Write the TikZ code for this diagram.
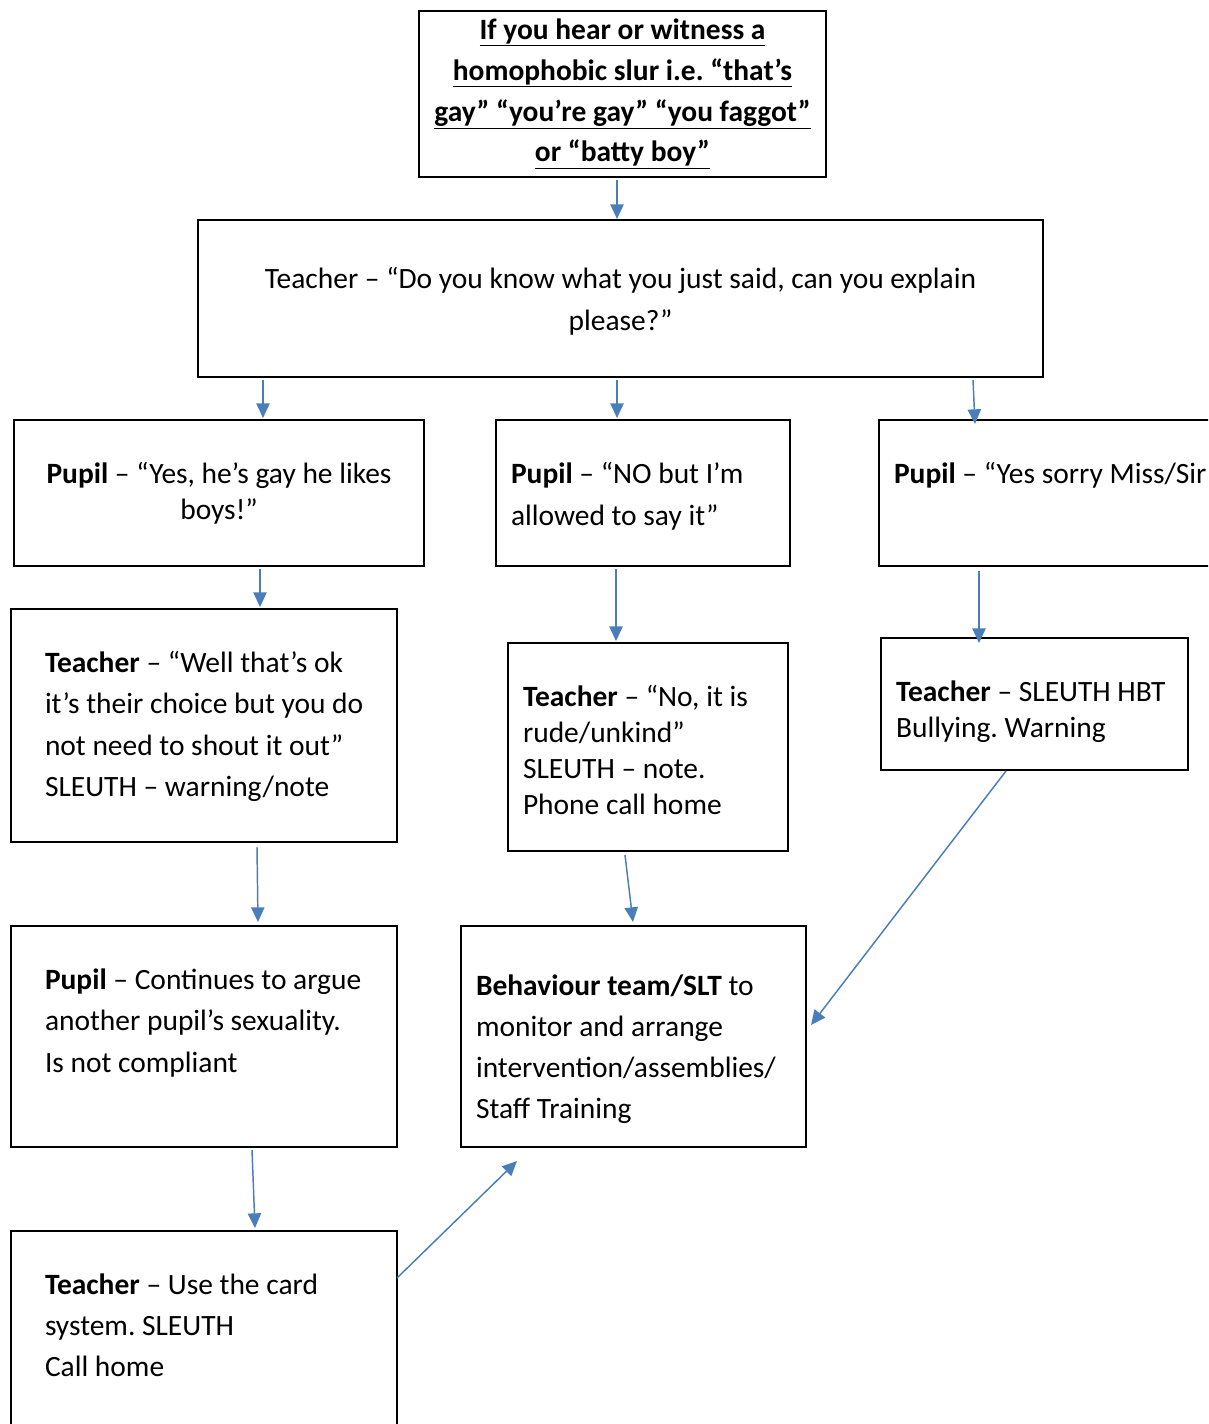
\documentclass[tikz,border=0pt]{standalone}
\usepackage{fontspec}
\setmainfont{Carlito}
\usetikzlibrary{arrows.meta}
\definecolor{arrowblue}{RGB}{74,126,187}
\newdimen\pxu \pxu=0.75pt
% width, height, alignment, first baseline, line skip, text
\newcommand\boxtext[6]{\parbox[t][#2\pxu][t]{#1\pxu}{\frenchspacing#3\baselineskip=#5\pxu\rule{0pt}{#4\pxu}#6}}
\newcommand\lefttext{\raggedright\leftskip=15\pxu}
\newcommand\leftwide{\raggedright\leftskip=34\pxu}
\newcommand\uline[1]{\underline{#1}}

\begin{document}
\begin{tikzpicture}[x=0.75pt, y=-0.75pt,
    box/.style={draw, line width=1.5pt, inner sep=0pt, anchor=north west,
      font=\fontsize{22.1pt}{26pt}\selectfont},
    flow/.style={draw=arrowblue, line width=1.1pt,
      -{Triangle[length=11pt, width=10pt]}}]
    \useasboundingbox (0,0) rectangle (1208,1424);
    \clip (0,0) rectangle (1208,1424);
    % Drawing boxes
    \node[box] (slur) at (418,10) {\boxtext{407}{166}{\centering}{28}{41}{\bfseries
      \uline{If you hear or witness a}\\
      \uline{homophobic slur i.e. “that’s}\\
      \uline{gay” “you’re gay” “you faggot”}\\
      \uline{or “batty boy”}}};
    \node[box] (ask) at (197,219) {\boxtext{845}{157}{\centering}{68}{42}{%
      Teacher – “Do you know what you just said, can you explain\\ please?”}};
    \node[box] (pupilyes) at (13,419) {\boxtext{410}{146}{\centering}{63}{36}{%
      \textbf{Pupil} – “Yes, he’s gay he likes\\ boys!”}};
    \node[box] (pupilno) at (495,419) {\boxtext{294}{146}{\lefttext}{63}{42}{%
      \textbf{Pupil} – “NO but I’m\\ allowed to say it”}};
    \node[box] (pupilsorry) at (878,419) {\boxtext{352}{146}{\lefttext}{63}{36}{%
      \textbf{Pupil} – “Yes sorry Miss/Sir}};
    \node[box] (teachok) at (10,608) {\boxtext{386}{233}{\leftwide}{63}{41.5}{%
      \textbf{Teacher} – “Well that’s ok\\ it’s their choice but you do\\
      not need to shout it out”\\ SLEUTH – warning/note}};
    \node[box] (teachrude) at (507,642) {\boxtext{280}{208}{\lefttext}{63}{36}{%
      \textbf{Teacher} – “No, it is\\ rude/unkind”\\ SLEUTH – note.\\ Phone call home}};
    \node[box] (teachhbt) at (880,637) {\boxtext{307}{132}{\lefttext}{63}{36}{%
      \textbf{Teacher} – SLEUTH HBT\\ Bullying. Warning}};
    \node[box] (argue) at (10,925) {\boxtext{386}{221}{\leftwide}{63}{41.5}{%
      \textbf{Pupil} – Continues to argue\\ another pupil’s sexuality.\\ Is not compliant}};
    \node[box] (team) at (460,925) {\boxtext{345}{221}{\lefttext}{69}{41}{%
      \textbf{Behaviour team/SLT} to\\ monitor and arrange\\
      intervention/assemblies/\\ Staff Training}};
    \node[box] (card) at (10,1230) {\boxtext{386}{220}{\leftwide}{63}{41}{%
      \textbf{Teacher} – Use the card\\ system. SLEUTH\\ Call home}};
    % Drawing arrows
    \foreach \a/\ax/\ay/\aa/\b/\bx/\by/\ba in {
        slur/199/2/south west/ask/420/0/north west,
        ask/66/2/south west/pupilyes/250/-1/north west,
        ask/420/2/south west/pupilno/122/-1/north west,
        ask/776/2/south west/pupilsorry/97/5/north west,
        pupilyes/247/2/south west/teachok/250/-1/north west,
        pupilno/121/2/south west/teachrude/109/-1/north west,
        pupilsorry/101/4/south west/teachhbt/99/6/north west,
        teachok/247/4/south west/argue/248/-3/north west,
        teachrude/118/3/south west/team/173/-3/north west,
        teachhbt/126/0/south west/team/4/100/north east,
        argue/242/2/south west/card/245/-2/north west,
        card/387/48/north west/team/57/13/south west}{
      \draw[flow] ([shift={(\ax,\ay)}]\a.\aa) -- ([shift={(\bx,\by)}]\b.\ba);
    }
\end{tikzpicture}
\end{document}
